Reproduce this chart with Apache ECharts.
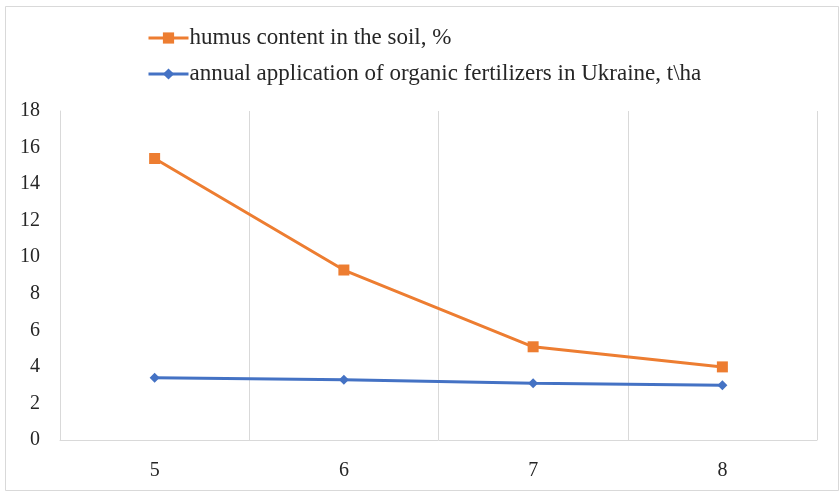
<!DOCTYPE html>
<html>
<head>
<meta charset="utf-8">
<script src="https://cdn.jsdelivr.net/npm/echarts@6/dist/echarts.min.js"></script>
<style>
html,body{margin:0;padding:0;background:#fff;}
#chart{width:839px;height:491px;}
</style>
</head>
<body>
<div id="chart"></div>
<script>
var categories = ['5', '6', '7', '8'];
var humus = [15.4, 9.3, 5.1, 4.0];
var fertilizers = [3.4, 3.3, 3.1, 3.0];
var yTicks = {min: 0, max: 18, interval: 2};
var seriesNames = ['humus content in the soil, %', 'annual application of organic fertilizers in Ukraine, t\\ha'];

var FONT = '"Liberation Serif", "Times New Roman", serif';
var chart = echarts.init(document.getElementById('chart'));
chart.setOption({
  animation: false,
  backgroundColor: '#fff',
  graphic: [{
    type: 'rect', left: 3, top: 4, z: -1,
    shape: {width: 833, height: 484},
    style: {fill: 'none', stroke: '#d9d9d9', lineWidth: 1}
  }],
  legend: {
    orient: 'vertical',
    left: 142,
    top: 21,
    itemWidth: 40,
    itemHeight: 14,
    itemGap: 12,
    lineStyle: {width: 3},
    textStyle: {fontFamily: FONT, fontSize: 23, color: '#262626', padding: [0, 0, 0, -4], lineHeight: 24},
    data: seriesNames
  },
  grid: {left: 60, right: 22, top: 111, bottom: 51, containLabel: false},
  xAxis: {
    type: 'category',
    data: categories,
    boundaryGap: true,
    axisLine: {show: true, lineStyle: {color: '#d9d9d9', width: 1}},
    axisTick: {show: false},
    splitLine: {show: true, lineStyle: {color: '#d9d9d9', width: 1}},
    axisLabel: {fontFamily: FONT, fontSize: 20, color: '#262626', margin: 21}
  },
  yAxis: {
    type: 'value',
    min: yTicks.min,
    max: yTicks.max,
    interval: yTicks.interval,
    axisLine: {show: true, lineStyle: {color: '#d9d9d9', width: 1}},
    axisTick: {show: false},
    splitLine: {show: false},
    axisLabel: {fontFamily: FONT, fontSize: 20, color: '#262626', margin: 20}
  },
  series: [{
    name: seriesNames[0],
    type: 'line',
    data: humus,
    symbol: 'rect',
    symbolSize: 11,
    itemStyle: {color: '#ED7D31'},
    lineStyle: {color: '#ED7D31', width: 3}
  }, {
    name: seriesNames[1],
    type: 'line',
    data: fertilizers,
    symbol: 'diamond',
    symbolSize: 10,
    itemStyle: {color: '#4472C4'},
    lineStyle: {color: '#4472C4', width: 3}
  }]
});
</script>
</body>
</html>
